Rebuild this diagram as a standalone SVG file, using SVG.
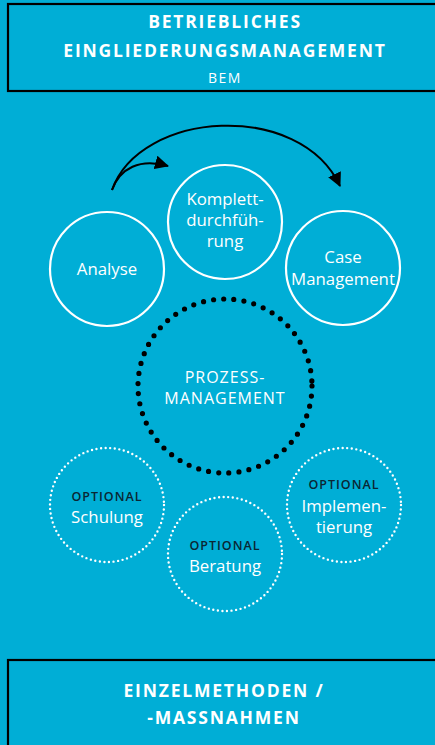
<svg xmlns="http://www.w3.org/2000/svg" width="435" height="745" viewBox="0 0 435 745">
  <defs>
    <marker id="ah" markerUnits="userSpaceOnUse" markerWidth="16" markerHeight="14" refX="13" refY="7" orient="auto">
      <path d="M0,0 L14,7 L0,14 Z" fill="#000"/>
    </marker>
    <style>
      .box{fill:#00AED6;stroke:#000;stroke-width:2.2}
      .ttl{font-family:"Open Sans","Liberation Sans",sans-serif;font-weight:700;font-size:17.5px;letter-spacing:1.8px;fill:#fff;text-anchor:middle}
      .sub{font-family:"Open Sans","Liberation Sans",sans-serif;font-size:14px;letter-spacing:1.5px;fill:#fff;text-anchor:middle}
      .solid{fill:none;stroke:#fff;stroke-width:2.2}
      .wdot{fill:none;stroke:#fff;stroke-width:2.4;stroke-linecap:round;stroke-dasharray:0 4.6}
      .bdot{fill:none;stroke:#000;stroke-width:5.2;stroke-linecap:round;stroke-dasharray:0 10.2}
      .lbl{font-family:"Open Sans","Liberation Sans",sans-serif;font-size:16.8px;fill:#fff;text-anchor:middle}
      .caps{font-family:"Open Sans","Liberation Sans",sans-serif;font-size:16px;letter-spacing:1px;fill:#fff;text-anchor:middle}
      .opt{font-family:"Open Sans","Liberation Sans",sans-serif;font-size:12.5px;font-weight:600;letter-spacing:1px;fill:#0b2633;text-anchor:middle}
      .arr{fill:none;stroke:#000;stroke-width:2}
    </style>
  </defs>
  <rect width="435" height="745" fill="#00AED6"/>

  <g id="header">
    <rect class="box" x="8" y="4" width="440" height="87"/>
    <text class="ttl" x="225" y="28">BETRIEBLICHES</text>
    <text class="ttl" x="225" y="57">EINGLIEDERUNGSMANAGEMENT</text>
    <text class="sub" x="225" y="83">BEM</text>
  </g>

  <g id="connectors">
    <path class="arr" d="M112,190 C120,168 140,158 168,166" marker-end="url(#ah)"/>
    <path class="arr" d="M112,190 C140,110 300,100 340,186" marker-end="url(#ah)"/>
  </g>

  <g id="analyse">
    <circle class="solid" cx="107" cy="269" r="57"/>
    <text class="lbl" x="107" y="275">Analyse</text>
  </g>

  <g id="komplett">
    <circle class="solid" cx="225" cy="222" r="57"/>
    <text class="lbl" x="225" y="205">Komplett-</text>
    <text class="lbl" x="225" y="226">durchfüh-</text>
    <text class="lbl" x="225" y="247">rung</text>
  </g>

  <g id="case">
    <circle class="solid" cx="343" cy="268" r="57"/>
    <text class="lbl" x="343" y="263">Case</text>
    <text class="lbl" x="343" y="285">Management</text>
  </g>

  <g id="prozess">
    <circle class="bdot" cx="225" cy="386" r="87"/>
    <text class="caps" x="225" y="383">PROZESS-</text>
    <text class="caps" x="225" y="404">MANAGEMENT</text>
  </g>

  <g id="schulung">
    <circle class="wdot" cx="107" cy="505" r="57"/>
    <text class="opt" x="107" y="501">OPTIONAL</text>
    <text class="lbl" x="107" y="523">Schulung</text>
  </g>

  <g id="beratung">
    <circle class="wdot" cx="225" cy="554" r="57"/>
    <text class="opt" x="225" y="550">OPTIONAL</text>
    <text class="lbl" x="225" y="572">Beratung</text>
  </g>

  <g id="implementierung">
    <circle class="wdot" cx="344" cy="505" r="57"/>
    <text class="opt" x="344" y="489">OPTIONAL</text>
    <text class="lbl" x="344" y="512">Implemen-</text>
    <text class="lbl" x="344" y="533">tierung</text>
  </g>

  <g id="einzel">
    <rect class="box" x="8" y="660" width="440" height="100"/>
    <text class="ttl" x="224" y="697">EINZELMETHODEN /</text>
    <text class="ttl" x="224" y="724">-MASSNAHMEN</text>
  </g>
</svg>
